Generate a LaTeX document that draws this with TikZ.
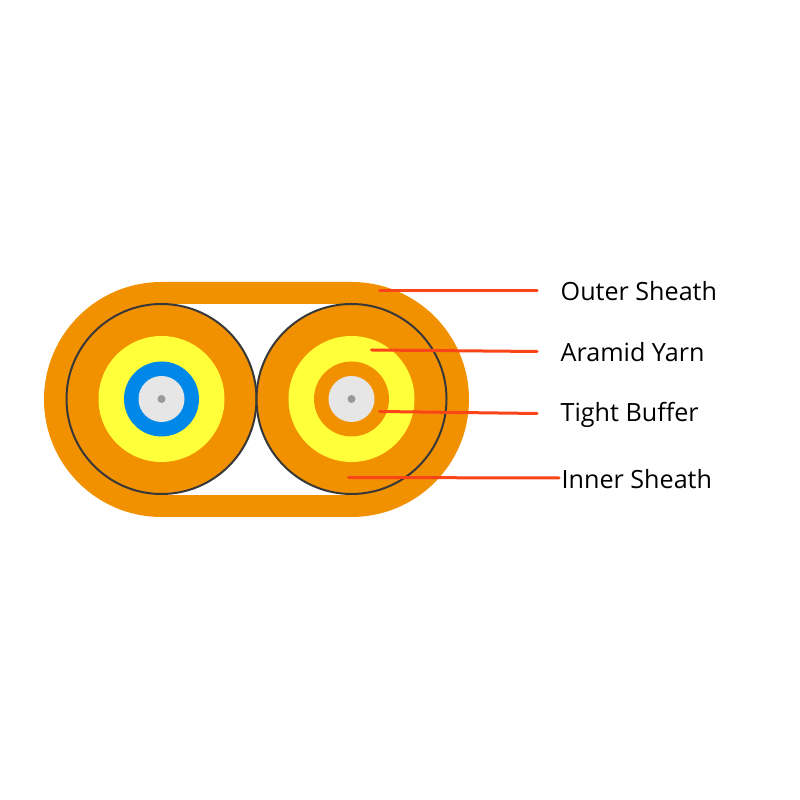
\documentclass[tikz,border=0pt]{standalone}
\usepackage{fontspec}
\setmainfont{Open Sans}
\definecolor{sheath}{HTML}{F19100}
\definecolor{yarn}{HTML}{FFFF3A}
\definecolor{buffer}{HTML}{0088E9}
\definecolor{glass}{HTML}{E6E6E6}
\definecolor{core}{HTML}{999999}
\definecolor{leader}{HTML}{FA4518}
\tikzset{
  leaderline/.style={draw=leader, line width=.3mm, line cap=round},
  partname/.style={anchor=west, inner xsep=.23cm, inner ysep=0pt, text height=2.1mm, text depth=0pt, font=\fontsize{7.15}{9}\selectfont},
}
\newcommand{\fibre}[3]{%
\fill[sheath] (#1,#2) circle (.95);
\draw[color=black!78, line width=.2mm] (#1,#2) circle (.95);
\fill[yarn] (#1,#2) circle (.63);
\fill[#3] (#1,#2) circle (.375);
\fill[glass] (#1,#2) circle (.23);
\fill[core] (#1,#2) circle (.04);
}
\begin{document}
\begin{tikzpicture}
\useasboundingbox (0,0) rectangle (8,8);
% outer jacket
\fill[sheath] (1.615,5.18) -- (3.515,5.18) arc (90:-90:1.175) -- (1.615,2.83) arc (270:90:1.175) -- cycle;
\fill[white] (1.615,4.96) rectangle (3.515,3.05);
\fibre{1.615}{4.01}{buffer}
\fibre{3.515}{4.01}{sheath}

\node[partname] (outer) at (5.37,5.095) {Outer Sheath};
\node[partname] (aramid) at (5.37,4.485) {Aramid Yarn};
\node[partname] (tight) at (5.37,3.885) {Tight Buffer};
\node[partname, inner xsep=.02cm] (inner) at (5.59,3.22) {Inner Sheath};

\coordinate (outertip) at (3.795,5.095);
\coordinate (aramidtip) at (3.715,4.5);
\coordinate (tighttip) at (3.795,3.885);
\coordinate (innertip) at (3.485,3.225);

\draw[leaderline] (outertip)--(outer.west);
\draw[leaderline] (aramidtip)--(aramid.west);
\draw[leaderline] (tighttip)--([yshift=-.2mm]tight.west);
\draw[leaderline] (innertip)--(inner.west);
\end{tikzpicture}
\end{document}
